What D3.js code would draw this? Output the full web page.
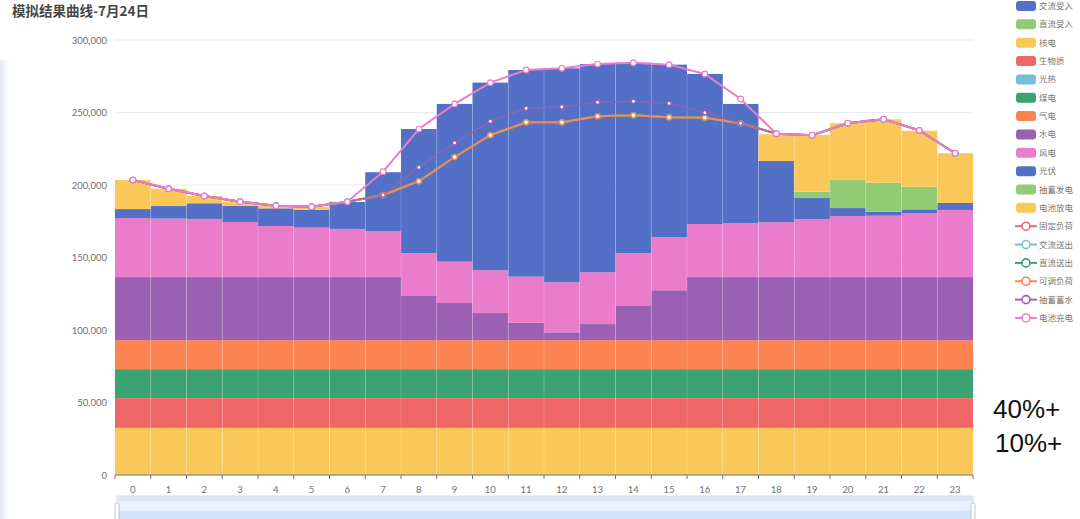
<!DOCTYPE html>
<html>
<head>
<meta charset="utf-8">
<script src="https://cdn.jsdelivr.net/npm/d3@7"></script>
<style>
  body { margin: 0; background: #fff; }
  svg { display: block; font-family: "Noto Sans CJK SC", "Noto Sans", sans-serif; }
</style>
</head>
<body>
<svg id="chart" width="1080" height="519"></svg>
<script>
// 模拟结果曲线 — stacked generation bars + stacked load lines, one day, hourly.
const hours = ["0","1","2","3","4","5","6","7","8","9","10","11","12","13","14","15","16","17","18","19","20","21","22","23"];
const yTicks = [0, 50000, 100000, 150000, 200000, 250000, 300000];

// generation (bars, stacked bottom → top in this order)
const acIn     = [0,0,0,0,0,0,0,0,0,0,0,0,0,0,0,0,0,0,0,0,0,0,0,0];
const dcIn     = [0,0,0,0,0,0,0,0,0,0,0,0,0,0,0,0,0,0,0,0,0,0,0,0];
const nuclear  = [32500,32500,32500,32500,32500,32500,32500,32500,32500,32500,32500,32500,32500,32500,32500,32500,32500,32500,32500,32500,32500,32500,32500,32500];
const biomass  = [20500,20500,20500,20500,20500,20500,20500,20500,20500,20500,20500,20500,20500,20500,20500,20500,20500,20500,20500,20500,20500,20500,20500,20500];
const solarTh  = [0,0,0,0,0,0,0,0,0,0,0,0,0,0,0,0,0,0,0,0,0,0,0,0];
const coal     = [20000,20000,20000,20000,20000,20000,20000,20000,20000,20000,20000,20000,20000,20000,20000,20000,20000,20000,20000,20000,20000,20000,20000,20000];
const gas      = [20000,20000,20000,20000,20000,20000,20000,20000,20000,20000,20000,20000,20000,20000,20000,20000,20000,20000,20000,20000,20000,20000,20000,20000];
const hydro    = [43500,43500,43500,43500,43500,43500,43500,43500,30900,25600,18700,12000,5400,11100,24000,34400,43500,43500,43500,43500,43500,43500,43500,43500];
const wind     = [40700,40300,40100,38000,35200,34100,33200,31800,29000,28500,29500,31800,34500,35700,35900,36700,36600,37100,37800,40000,42100,42300,44000,46300];
const pv       = [6200,8700,10800,11200,12200,12200,18600,40500,85700,108800,129400,142500,147600,143600,131400,118900,103500,82300,42300,14500,5500,2800,2700,4800];
const pumpGen  = [0,0,0,0,0,0,0,0,0,0,0,0,0,0,0,0,0,0,0,4400,19300,20000,15600,0];
const batDis   = [20000,11900,5000,2800,2300,2200,0,0,0,0,0,0,0,0,0,0,0,0,18400,39100,39200,43700,38600,34300];

// load (lines, stacked)
const fixedLoad = [203400,197400,192400,188500,185700,185000,188500,193100,202600,219300,234300,243200,243200,247400,248100,246700,246400,242600,235400,234300,242600,245300,237700,221900];
const acOut     = [0,0,0,0,0,0,0,0,0,0,0,0,0,0,0,0,0,0,0,0,0,0,0,0];
const dcOut     = [0,0,0,0,0,0,0,0,0,0,0,0,0,0,0,0,0,0,0,0,0,0,0,0];
const adjLoad   = [0,0,0,0,0,0,0,0,0,0,0,0,0,0,0,0,0,0,0,0,0,0,0,0];
const pumpStore = [0,0,0,0,0,0,0,0,9600,9700,9600,9700,10600,9600,9600,9600,3500,0,0,0,0,0,0,0];
const batCharge = [0,0,0,0,0,0,0,16100,26400,26900,26700,26400,26700,26400,26600,26700,26700,16700,0,0,0,0,0,0];

const barNames  = ["交流受入","直流受入","核电","生物质","光热","煤电","气电","水电","风电","光伏","抽蓄发电","电池放电"];
const barData   = [acIn, dcIn, nuclear, biomass, solarTh, coal, gas, hydro, wind, pv, pumpGen, batDis];
const barColors = ["#5470c6","#91cc75","#fac858","#ee6666","#73c0de","#3ba272","#fc8452","#9a60b4","#ea7ccc","#5470c6","#91cc75","#fac858"];
const lineNames  = ["固定负荷","交流送出","直流送出","可调负荷","抽蓄蓄水","电池充电"];
const lineData   = [fixedLoad, acOut, dcOut, adjLoad, pumpStore, batCharge];
const lineColors = ["#ee6666","#73c0de","#3ba272","#fc8452","#9a60b4","#ea7ccc"];

const svg = d3.select("#chart");
const plotL = 115, plotR = 973, plotT = 40, plotB = 475;

const x = d3.scaleBand().domain(hours).range([plotL, plotR]).padding(0);
const y = d3.scaleLinear().domain([0, 300000]).range([plotB, plotT]);

// faint photo edge on the far left
const grad = svg.append("defs").append("linearGradient").attr("id", "edge");
grad.append("stop").attr("offset", 0).attr("stop-color", "#cdd6df").attr("stop-opacity", 0.55);
grad.append("stop").attr("offset", 1).attr("stop-color", "#ffffff").attr("stop-opacity", 0);
svg.append("rect").attr("x", 0).attr("y", 60).attr("width", 14).attr("height", 459).attr("fill", "url(#edge)");

// title
svg.append("text").attr("x", 12).attr("y", 16)
  .attr("font-size", 13.5).attr("font-weight", 700).attr("fill", "#464646")
  .text("模拟结果曲线-7月24日");

// grid + y labels
svg.append("g").selectAll("line").data(yTicks.filter((d) => d > 0)).join("line")
  .attr("x1", plotL).attr("x2", plotR).attr("y1", (d) => y(d)).attr("y2", (d) => y(d))
  .attr("stroke", "#e6ebf3");
svg.append("g").selectAll("text").data(yTicks).join("text")
  .attr("x", 107).attr("y", (d) => y(d) + 3.5).attr("text-anchor", "end")
  .attr("font-size", 9.5).attr("fill", "#6e7079").attr("font-family", "Lato, sans-serif")
  .text(d3.format(","));

// stacked bars
const table = hours.map((h, i) => {
  const row = { hour: h };
  barNames.forEach((n, k) => (row[n] = barData[k][i]));
  return row;
});
const layers = d3.stack().keys(barNames)(table);
svg.append("g").selectAll("g").data(layers).join("g")
  .attr("fill", (d, k) => barColors[k])
  .selectAll("rect").data((d) => d).join("rect")
  .attr("x", (d) => x(d.data.hour)).attr("width", x.bandwidth())
  .attr("y", (d) => y(d[1])).attr("height", (d) => y(d[0]) - y(d[1]));

// light separators between hour bars
const totals = table.map((r) => d3.sum(barNames, (n) => r[n]));
svg.append("g").selectAll("line").data(hours.slice(1)).join("line")
  .attr("x1", (h) => x(h)).attr("x2", (h) => x(h))
  .attr("y1", plotB).attr("y2", (h, i) => y(Math.min(totals[i], totals[i + 1])))
  .attr("stroke", "#ffffff").attr("stroke-opacity", 0.18);

// x axis
const xAxis = svg.append("g").attr("transform", `translate(0,${plotB})`);
xAxis.append("line").attr("x1", plotL).attr("x2", plotR).attr("stroke", "#6e7079");
xAxis.selectAll("line.tick").data(hours.concat(["end"])).join("line").attr("class", "tick")
  .attr("x1", (h) => (h === "end" ? plotR : x(h))).attr("x2", (h) => (h === "end" ? plotR : x(h)))
  .attr("y1", 0).attr("y2", 4).attr("stroke", "#6e7079");
xAxis.selectAll("text").data(hours).join("text")
  .attr("x", (h) => x(h) + x.bandwidth() / 2).attr("y", 18).attr("text-anchor", "middle")
  .attr("font-size", 9.5).attr("fill", "#6e7079").attr("font-family", "Lato, sans-serif")
  .text((h) => h);

// stacked load lines
const cum = [];
lineData.forEach((arr, k) => {
  cum.push(arr.map((v, i) => v + (k ? cum[k - 1][i] : 0)));
});
const cx = (i) => x(hours[i]) + x.bandwidth() / 2;
const line = d3.line().x((d, i) => cx(i)).y((d) => y(d));
const widths = [2, 2, 2, 2, 1.4, 2];
const radii = [2.6, 2.6, 2.6, 2.4, 2, 2.8];
cum.forEach((vals, k) => {
  const g = svg.append("g");
  g.append("path").attr("d", line(vals)).attr("fill", "none")
    .attr("stroke", lineColors[k]).attr("stroke-width", widths[k])
    .attr("stroke-opacity", k === 4 ? 0.85 : 1);
  g.selectAll("circle").data(vals).join("circle")
    .attr("cx", (d, i) => cx(i)).attr("cy", (d) => y(d)).attr("r", radii[k])
    .attr("fill", "#fff").attr("stroke", lineColors[k]).attr("stroke-width", 1.2);
});

// data zoom slider strip
const dz = svg.append("g");
dz.append("rect").attr("x", 117).attr("y", 496).attr("width", plotR - 117).attr("height", 30)
  .attr("fill", "#e9f0fd").attr("stroke", "#d2dbee");
dz.append("rect").attr("x", 117).attr("y", 496).attr("width", plotR - 117).attr("height", 5)
  .attr("fill", "#dde4f1");
dz.append("rect").attr("x", 117).attr("y", 511).attr("width", plotR - 117).attr("height", 10)
  .attr("fill", "#d5e3fc");
[117, plotR].forEach((hx) => {
  dz.append("rect").attr("x", hx - 2).attr("y", 503).attr("width", 4).attr("height", 18)
    .attr("rx", 1.5).attr("fill", "#fff").attr("stroke", "#a7b7cc").attr("stroke-width", 0.8);
});

// legend
const lg = svg.append("g").attr("font-size", 8.5).attr("fill", "#777");
const rowH = 18.35, ly0 = 6;
barNames.forEach((n, k) => {
  const yy = ly0 + k * rowH;
  lg.append("rect").attr("x", 1016).attr("y", yy - 5).attr("width", 20).attr("height", 10)
    .attr("rx", 3).attr("fill", barColors[k]);
  lg.append("text").attr("x", 1039).attr("y", yy + 3).text(n);
});
lineNames.forEach((n, k) => {
  const yy = ly0 + (barNames.length + k) * rowH;
  lg.append("line").attr("x1", 1015).attr("x2", 1037).attr("y1", yy).attr("y2", yy)
    .attr("stroke", lineColors[k]).attr("stroke-width", 2);
  lg.append("circle").attr("cx", 1026).attr("cy", yy).attr("r", 4)
    .attr("fill", "#fff").attr("stroke", lineColors[k]).attr("stroke-width", 1.6);
  lg.append("text").attr("x", 1039).attr("y", yy + 3).text(n);
});

// side notes
svg.append("text").attr("x", 993).attr("y", 418).attr("font-size", 26)
  .attr("font-family", "Liberation Sans, Arial, sans-serif").attr("fill", "#111").text("40%+");
svg.append("text").attr("x", 995).attr("y", 452).attr("font-size", 26)
  .attr("font-family", "Liberation Sans, Arial, sans-serif").attr("fill", "#111").text("10%+");
</script>
</body>
</html>
